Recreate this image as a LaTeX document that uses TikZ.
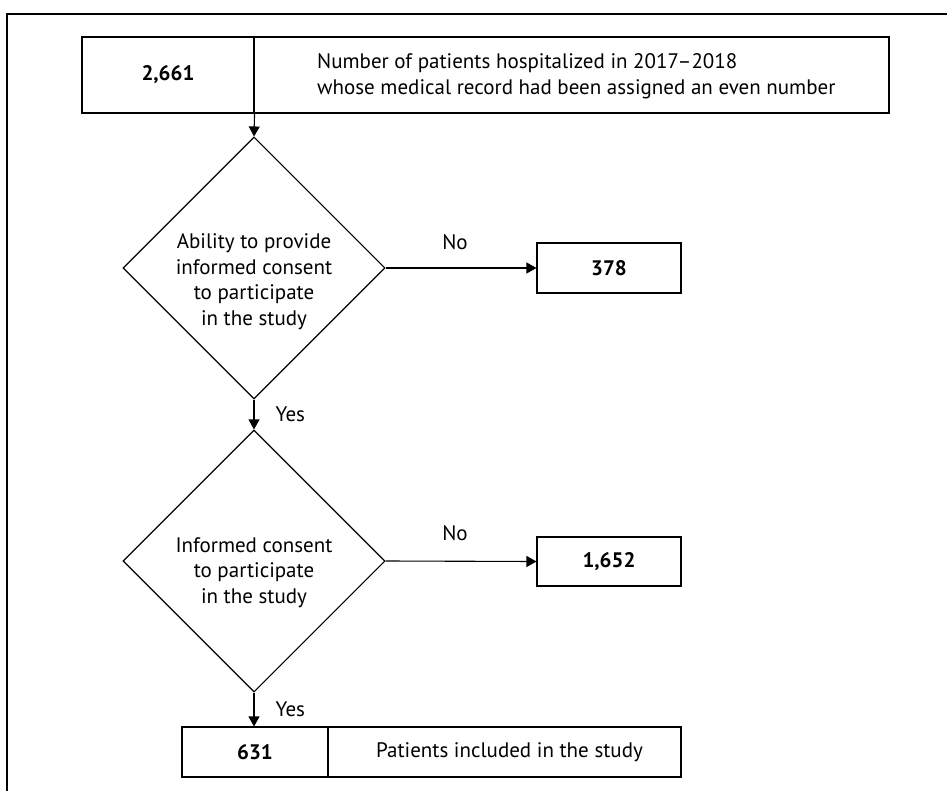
\documentclass[tikz,border=0pt]{standalone}
\usepackage{fontspec}
\setmainfont{PT Sans}
\usetikzlibrary{shapes.geometric,arrows.meta}
\begin{document}
\begin{tikzpicture}[x=1pt,y=-1pt,
  cell/.style={draw, line width=1.1pt, inner sep=0pt, font=\fontsize{21}{26}\selectfont},
  num/.style={cell, font=\fontsize{21}{26}\selectfont\bfseries},
  decision/.style={draw, line width=1.1pt, diamond, aspect=1, inner sep=0pt,
    minimum width=262pt, minimum height=262pt, align=center,
    font=\fontsize{21}{25.5}\selectfont},
  lbl/.style={font=\fontsize{21}{26}\selectfont, inner sep=0pt},
  arr/.style={line width=1.1pt, -{Triangle[length=10pt,width=11pt]}}]
\useasboundingbox (0,0) rectangle (947,791);
\coordinate (fb) at (7,791);
\coordinate (fc) at (7,14);
\coordinate (fr) at (947,14);
\draw[line width=1.5pt] (fb) -- (fc) -- (fr);
% top box
\node[num, minimum width=172pt, minimum height=76pt] (topL) at (168,75) {2,661};
\node[cell, minimum width=635pt, minimum height=76pt] (topR) at (571.5,75) {};
\node[lbl, anchor=west, align=left] (topT) at (317,76)
  {Number of patients hospitalized in 2017–2018\\whose medical record had been assigned an even number};
% decisions
\node[decision] (d1) at (254,268)
  {\raisebox{-19pt}[0pt][0pt]{\begin{tabular}{@{}c@{}}Ability to provide\\informed consent\\to participate\\in the study\end{tabular}}};
\node[decision] (d2) at (254,561)
  {\raisebox{-17pt}[0pt][0pt]{\begin{tabular}{@{}c@{}}Informed consent\\to participate\\in the study\end{tabular}}};
% exclusion boxes
\node[num, minimum width=144pt, minimum height=50pt] (n1) at (609,268) {378};
\node[num, minimum width=144pt, minimum height=49pt] (n2) at (609,561.5) {1,652};
% bottom box
\node[num, minimum width=146pt, minimum height=50pt] (botL) at (255,752) {631};
\node[cell, minimum width=353pt, minimum height=50pt] (botR) at (504.5,752) {\hspace*{10pt}\raisebox{-2pt}{Patients included in the study}};
% connectors
\draw[arr] (topL.south east) -- (d1.north);
\draw[arr] (d1.east) -- (n1.west) node[lbl, midway, above=18pt, xshift=-6pt] {No};
\draw[arr] (d1.south) -- (d2.north) node[lbl, midway, right=21pt] {Yes};
\draw[arr] (d2.east) -- (n2.west) node[lbl, midway, above=20pt, xshift=-6pt] {No};
\draw[arr] (d2.south) -- (d2.south |- botL.north) node[lbl, midway, right=21pt] {Yes};
\end{tikzpicture}
\end{document}
